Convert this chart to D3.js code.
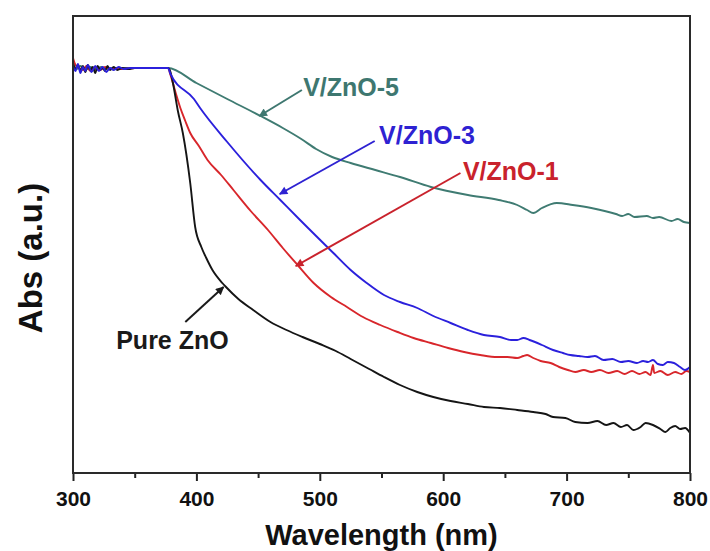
<!DOCTYPE html>
<html>
<head>
<meta charset="utf-8">
<script src="https://cdn.jsdelivr.net/npm/d3@7/dist/d3.min.js"></script>
<style>
  html, body { margin: 0; padding: 0; background: #fff; }
  svg { display: block; }
  text { font-family: Arial, "Liberation Sans", Helvetica, sans-serif; font-weight: bold; }
</style>
</head>
<body>
<svg id="chart" width="710" height="551"></svg>
<script>
// UV-vis absorption spectra, wavelength (nm) vs absorbance (a.u.)
const wavelengthTicks = [300, 400, 500, 600, 700, 800];
const minorTicks = [350, 450, 550, 650, 750];

const pureZnO = [
  [300, 4.10], [302, 4.04], [304, 4.08], [306, 4.02], [308, 4.07], [310, 4.01], [312, 4.08], [314, 4.03],
  [316, 4.06], [318, 4.00], [320, 4.07], [322, 4.03], [324, 4.05], [326, 4.02], [328, 4.07], [330, 4.03],
  [333, 4.06], [336, 4.03], [340, 4.05], [345, 4.04], [350, 4.05], [360, 4.05], [370, 4.05], [377, 4.05],
  [379, 4.01], [381, 3.90], [385, 3.62], [389, 3.40], [395, 2.90], [399, 2.46], [404, 2.26], [408, 2.15],
  [413, 2.03], [421, 1.90], [424, 1.86], [434, 1.74], [446, 1.63], [460, 1.51], [473, 1.43], [486, 1.36],
  [500, 1.29], [513, 1.22], [525, 1.14], [540, 1.04], [552, 0.96], [565, 0.88], [579, 0.81], [592, 0.76],
  [606, 0.72], [620, 0.69], [633, 0.66], [646, 0.65], [660, 0.63], [673, 0.61], [683, 0.59], [689, 0.56],
  [699, 0.55], [707, 0.51], [717, 0.50], [725, 0.52], [732, 0.48], [738, 0.50], [744, 0.46], [749, 0.48],
  [754, 0.43], [760, 0.46], [764, 0.50], [770, 0.48], [776, 0.44], [780, 0.41], [784, 0.45], [788, 0.47],
  [792, 0.44], [796, 0.45], [800, 0.40]
];

const vZnO1 = [
  [300, 4.15], [302, 4.08], [305, 4.05], [308, 4.03], [311, 4.07], [314, 4.02], [318, 4.06], [322, 4.03],
  [326, 4.06], [330, 4.04], [335, 4.05], [340, 4.04], [350, 4.05], [365, 4.05], [377, 4.05],
  [379, 3.98], [383, 3.81], [387, 3.65], [391, 3.52], [395, 3.40], [402, 3.27], [409, 3.13], [420, 2.98],
  [430, 2.83], [444, 2.62], [458, 2.43], [470, 2.25], [482, 2.08], [495, 1.90], [509, 1.76], [522, 1.66],
  [535, 1.56], [549, 1.48], [563, 1.41], [576, 1.35], [590, 1.30], [604, 1.25], [617, 1.21], [630, 1.18],
  [644, 1.16], [652, 1.16], [660, 1.15], [665, 1.17], [668, 1.18], [673, 1.15], [679, 1.12], [687, 1.10],
  [694, 1.06], [701, 1.03], [707, 1.01], [714, 1.03], [720, 1.01], [727, 1.03], [734, 1.00], [741, 1.02],
  [747, 0.99], [753, 1.02], [759, 0.99], [764, 1.01], [768, 0.98], [770, 1.08], [771, 1.00], [776, 1.02],
  [782, 0.98], [788, 1.01], [793, 0.99], [797, 1.02], [800, 1.01]
];

const vZnO3 = [
  [300, 4.07], [302, 4.02], [304, 4.09], [306, 4.00], [308, 4.06], [310, 4.02], [312, 4.08], [315, 4.01],
  [318, 4.07], [321, 4.02], [324, 4.06], [327, 4.01], [330, 4.05], [333, 4.03], [337, 4.06], [341, 4.04],
  [346, 4.05], [355, 4.05], [365, 4.05], [377, 4.05],
  [379, 3.99], [398, 3.74], [403, 3.65], [425, 3.31], [452, 2.93], [468, 2.73], [484, 2.53], [511, 2.20],
  [525, 2.03], [538, 1.90], [552, 1.78], [565, 1.71], [579, 1.65], [592, 1.57], [606, 1.50], [620, 1.43],
  [633, 1.38], [646, 1.36], [655, 1.33], [660, 1.33], [665, 1.35], [670, 1.33], [680, 1.28], [689, 1.23],
  [697, 1.20], [703, 1.18], [710, 1.17], [717, 1.16], [723, 1.17], [730, 1.13], [737, 1.14], [744, 1.11],
  [750, 1.12], [757, 1.10], [762, 1.12], [766, 1.11], [770, 1.13], [774, 1.09], [778, 1.08], [782, 1.11],
  [787, 1.10], [792, 1.06], [796, 1.03], [800, 1.06]
];

const vZnO5 = [
  [300, 4.09], [303, 4.04], [306, 4.07], [310, 4.03], [314, 4.06], [318, 4.04], [323, 4.06], [328, 4.04],
  [334, 4.05], [340, 4.05], [350, 4.05], [365, 4.05], [377, 4.05],
  [400, 3.90], [425, 3.74], [452, 3.57], [470, 3.45], [485, 3.34], [497, 3.24], [510, 3.16], [525, 3.10],
  [545, 3.03], [565, 2.96], [590, 2.86], [620, 2.78], [645, 2.73], [660, 2.68], [668, 2.63], [673, 2.60],
  [680, 2.65], [692, 2.70], [705, 2.68], [720, 2.65], [740, 2.59], [745, 2.57], [750, 2.59], [755, 2.56],
  [765, 2.57], [770, 2.55], [775, 2.56], [785, 2.52], [790, 2.54], [795, 2.51], [800, 2.50]
];

// sample name, curve, colour, label anchor [nm, a.u.], arrow from / to [nm, a.u.]
const seriesNames = ["V/ZnO-5", "V/ZnO-1", "Pure ZnO", "V/ZnO-3"];
const seriesData = [vZnO5, vZnO1, pureZnO, vZnO3];
const seriesColors = ["#3f7b72", "#d8262b", "#151515", "#2b20dc"];
const labelColors = ["#3e7770", "#c9222c", "#1a1a1a", "#2e22d2"];
const labelAnchors = [[486.5, 3.77], [616, 2.93], [335, 1.24], [548, 3.29]];
const arrowFrom = [[485.5, 3.83], [614, 3.00], [391, 1.51], [544.5, 3.32]];
const arrowTo = [[451, 3.57], [480.5, 2.07], [422, 1.86], [467.5, 2.79]];

const svg = d3.select("#chart");
const plotLeft = 73, plotRight = 690, plotTop = 16, plotBottom = 473;

const x = d3.scaleLinear().domain([300, 800]).range([plotLeft, plotRight]);
const y = d3.scaleLinear().domain([0, 4.57]).range([plotBottom, plotTop]);

// arrowhead markers, one per colour
const defs = svg.append("defs");
labelColors.forEach((c, i) => {
  defs.append("marker")
    .attr("id", "head" + i)
    .attr("viewBox", "0 0 10 10")
    .attr("refX", 9).attr("refY", 5)
    .attr("markerWidth", 5).attr("markerHeight", 4.2)
    .attr("markerUnits", "strokeWidth")
    .attr("orient", "auto")
    .append("path")
    .attr("d", "M0,0 L10,5 L0,10 Z")
    .attr("fill", c);
});

// spectra
const line = d3.line()
  .x(d => x(d[0]))
  .y(d => y(d[1]))
  .curve(d3.curveMonotoneX);

svg.append("g").selectAll("path")
  .data(seriesData)
  .join("path")
  .attr("d", line)
  .attr("fill", "none")
  .attr("stroke", (d, i) => seriesColors[i])
  .attr("stroke-width", 1.9)
  .attr("stroke-linejoin", "round");

// annotation arrows and labels
const ann = svg.append("g");
seriesNames.forEach((name, i) => {
  ann.append("line")
    .attr("x1", x(arrowFrom[i][0])).attr("y1", y(arrowFrom[i][1]))
    .attr("x2", x(arrowTo[i][0])).attr("y2", y(arrowTo[i][1]))
    .attr("stroke", labelColors[i])
    .attr("stroke-width", 2)
    .attr("marker-end", "url(#head" + i + ")");
  ann.append("text")
    .attr("x", x(labelAnchors[i][0]))
    .attr("y", y(labelAnchors[i][1]))
    .attr("fill", labelColors[i])
    .attr("font-size", 25)
    .text(name);
});

// x axis: major and minor ticks pointing outward
const xAxis = svg.append("g")
  .attr("transform", `translate(0,${plotBottom})`)
  .call(d3.axisBottom(x).tickValues(wavelengthTicks).tickSize(8).tickSizeOuter(0).tickPadding(10).tickFormat(d3.format("d")));
xAxis.select(".domain").remove();
xAxis.selectAll(".tick line").attr("stroke", "#222").attr("stroke-width", 2);
xAxis.selectAll(".tick text")
  .attr("font-size", 21)
  .attr("font-weight", "bold")
  .attr("font-family", "Arial, 'Liberation Sans', sans-serif")
  .attr("fill", "#111");

const xMinor = svg.append("g")
  .attr("transform", `translate(0,${plotBottom})`)
  .call(d3.axisBottom(x).tickValues(minorTicks).tickSize(5).tickSizeOuter(0).tickFormat(""));
xMinor.select(".domain").remove();
xMinor.selectAll(".tick line").attr("stroke", "#222").attr("stroke-width", 2);

// plot frame
svg.append("rect")
  .attr("x", plotLeft).attr("y", plotTop)
  .attr("width", plotRight - plotLeft).attr("height", plotBottom - plotTop)
  .attr("fill", "none")
  .attr("stroke", "#2a2a2a")
  .attr("stroke-width", 2);

// axis titles
svg.append("text")
  .attr("x", (plotLeft + plotRight) / 2)
  .attr("y", 545)
  .attr("text-anchor", "middle")
  .attr("font-size", 29)
  .attr("fill", "#111")
  .text("Wavelength (nm)");

svg.append("text")
  .attr("transform", "translate(42,258) rotate(-90)")
  .attr("text-anchor", "middle")
  .attr("font-size", 33)
  .attr("fill", "#111")
  .text("Abs (a.u.)");
</script>
</body>
</html>
